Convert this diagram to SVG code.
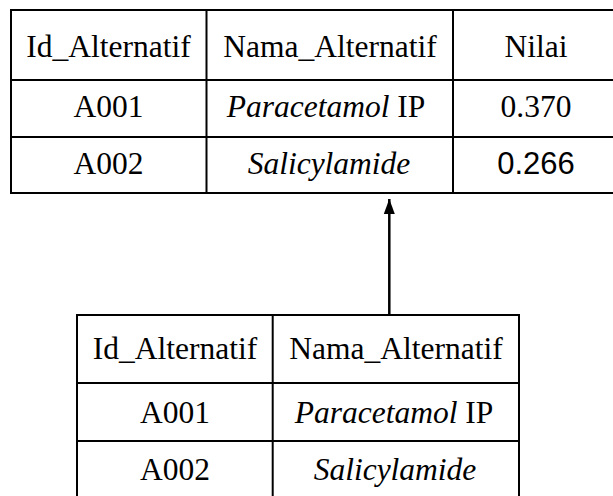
<svg xmlns="http://www.w3.org/2000/svg" width="613" height="496" viewBox="0 0 613 496">
<style>
.b{fill:none;stroke:#000;stroke-width:2}
.t{font-family:"Liberation Serif","Times New Roman",serif;font-size:31.5px;fill:#000;text-anchor:middle}
.s{font-family:"Liberation Sans",Arial,sans-serif;font-size:31px;fill:#000;text-anchor:middle}
.i{font-style:italic}
</style>
<defs>
<marker id="ah" markerWidth="16" markerHeight="12" refX="15" refY="6" orient="auto" markerUnits="userSpaceOnUse" viewBox="0 0 16 12">
<path d="M0,0.5 L15,6 L0,11.5 Z" fill="#000"/>
</marker>
</defs>
<rect width="613" height="496" fill="#fff"/>
<g id="tabel-hasil">
<rect class="b" x="11" y="10" width="608" height="183"/>
<line class="b" x1="11" y1="80" x2="619" y2="80"/>
<line class="b" x1="11" y1="137" x2="619" y2="137"/>
<line class="b" x1="206.5" y1="10" x2="206.5" y2="193"/>
<line class="b" x1="453" y1="10" x2="453" y2="193"/>
<text class="t" x="108.5" y="57">Id_Alternatif</text>
<text class="t" x="330" y="57">Nama_Alternatif</text>
<text class="t" x="536" y="57">Nilai</text>
<text class="t" x="108.5" y="117">A001</text>
<text class="t" x="326" y="117"><tspan class="i">Paracetamol</tspan> IP</text>
<text class="t" x="536" y="117">0.370</text>
<text class="t" x="108.5" y="174">A002</text>
<text class="t i" x="329" y="174">Salicylamide</text>
<text class="s" x="536" y="174">0.266</text>
</g>
<g id="tabel-alternatif">
<rect class="b" x="77" y="315" width="442" height="190"/>
<line class="b" x1="77" y1="383" x2="519" y2="383"/>
<line class="b" x1="77" y1="441" x2="519" y2="441"/>
<line class="b" x1="272.7" y1="315" x2="272.7" y2="505"/>
<text class="t" x="175" y="359">Id_Alternatif</text>
<text class="t" x="396" y="359">Nama_Alternatif</text>
<text class="t" x="175" y="423">A001</text>
<text class="t" x="394" y="423"><tspan class="i">Paracetamol</tspan> IP</text>
<text class="t" x="175" y="480">A002</text>
<text class="t i" x="395" y="480">Salicylamide</text>
</g>
<g id="connectors">
<line x1="389.3" y1="315" x2="389.3" y2="199" stroke="#000" stroke-width="2.5" marker-end="url(#ah)"/>
</g>
</svg>
